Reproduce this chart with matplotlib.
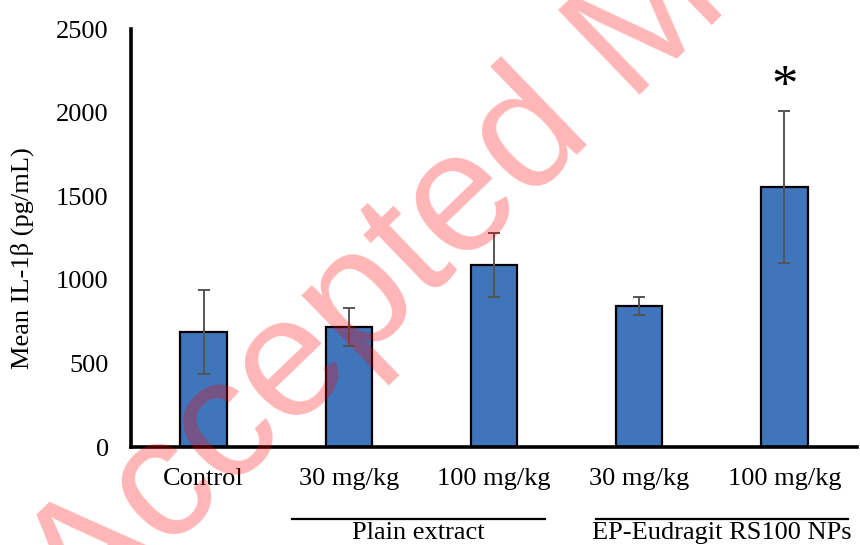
import matplotlib
matplotlib.use("Agg")
import matplotlib.pyplot as plt
import matplotlib.transforms as mtransforms

categories = ["Control", "30 mg/kg", "100 mg/kg", "30 mg/kg", "100 mg/kg"]
means = [688, 718, 1089, 843, 1555]
errors = [250, 115, 192, 55, 455]
yticks = [0, 500, 1000, 1500, 2000, 2500]
groups = ["Plain extract", "EP-Eudragit RS100 NPs"]

plt.rcParams["font.family"] = ["Liberation Serif", "DejaVu Serif"]
FS = 19

fig = plt.figure(figsize=(8.6, 5.45), dpi=100)
ax = fig.add_axes([131/860, 1-447/545, 726/860, 418/545])

x = list(range(len(categories)))
ax.bar(x, means, width=0.32, color="#3F75BA", edgecolor="black", linewidth=1.6, zorder=2)
ax.errorbar(x, means, yerr=errors, fmt="none", ecolor="#555555", elinewidth=1.4,
            capsize=4.5, capthick=1.4, zorder=3)

ax.set_xlim(-0.5, 4.5)
ax.set_ylim(0, 2500)
ax.set_yticks(yticks)
ax.set_yticklabels([str(v) for v in yticks])
ax.set_xticks(x)
ax.set_xticklabels(categories)
ax.tick_params(axis="both", length=0, labelsize=FS)
ax.tick_params(axis="y", pad=16)
ax.tick_params(axis="x", pad=15)
for s in ["top", "right"]:
    ax.spines[s].set_visible(False)
for s in ["left", "bottom"]:
    ax.spines[s].set_linewidth(2.6)

fig.text(22/860, 1-258/545, "Mean IL-1\u03b2 (pg/mL)", rotation=90, ha="center", va="center", fontsize=FS)

ax.text(4, 2150, "*", ha="center", va="center", fontsize=38)

trans = mtransforms.blended_transform_factory(ax.transData, fig.transFigure)
spans = [(0.609, 2.351), (2.702, 4.438)]
for (x0, x1), g in zip(spans, groups):
    ax.plot([x0, x1], [1-519/545, 1-519/545], color="black", lw=1.6, transform=trans, clip_on=False)
    ax.text((x0+x1)/2, 1-533/545, g, ha="center", va="center", fontsize=FS, transform=trans)

fig.text(84/860, 1-632/545, "Accepted Manuscript", rotation=44, rotation_mode="anchor",
         ha="left", va="baseline", fontsize=123, color="red", alpha=0.29,
         family=["Liberation Sans"], zorder=10)

fig.savefig("out.png", dpi=100)
